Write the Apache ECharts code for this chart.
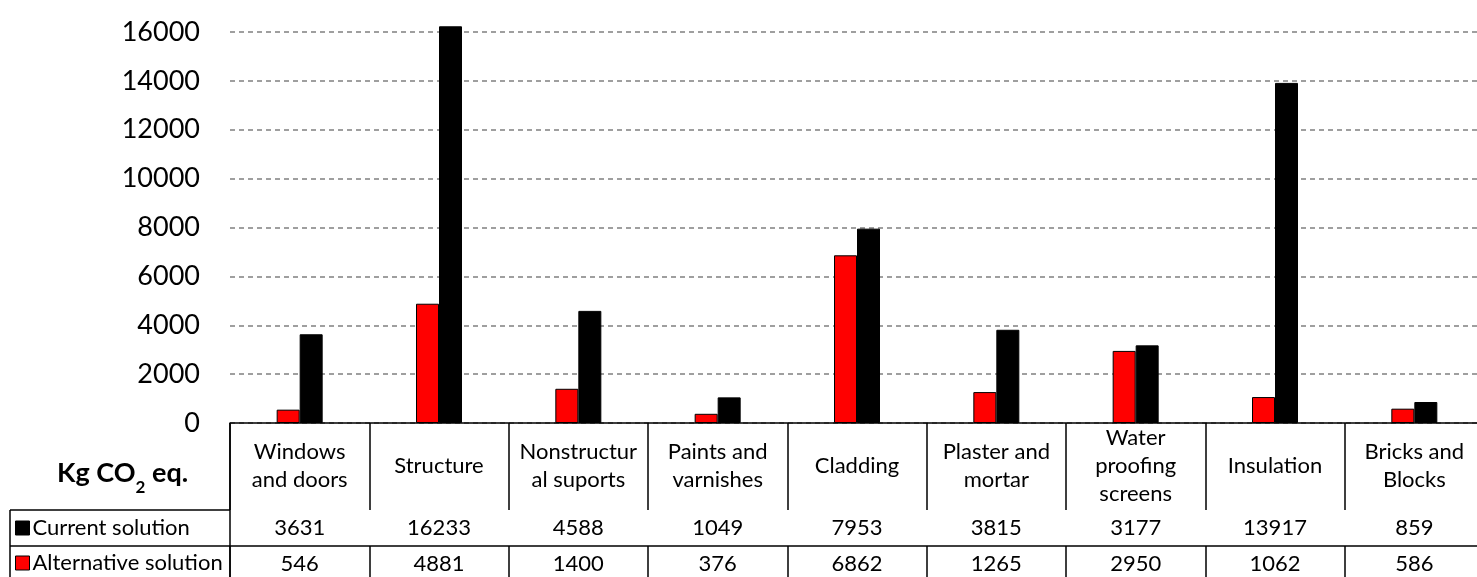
<!DOCTYPE html>
<html>
<head>
<meta charset="utf-8">
<script src="https://cdn.jsdelivr.net/npm/echarts@6/dist/echarts.min.js"></script>
<style>
  html, body { margin: 0; padding: 0; background: #fff; }
  #chart { width: 1477px; height: 577px; }
</style>
</head>
<body>
<div id="chart"></div>
<script>
var categories = [
  'Windows\nand doors', 'Structure', 'Nonstructur\nal suports', 'Paints and\nvarnishes',
  'Cladding', 'Plaster and\nmortar', 'Water\nproofing\nscreens', 'Insulation', 'Bricks and\nBlocks'
]
var currentSolution = [3631, 16233, 4588, 1049, 7953, 3815, 3177, 13917, 859]
var alternativeSolution = [546, 4881, 1400, 376, 6862, 1265, 2950, 1062, 586]

var font = 'Lato'
var lineColor = '#000'

var chart = echarts.init(document.getElementById('chart'))

// table row axis: values as labels, ticks as cell borders
function rowAxis (gridIndex, values) {
  return {
    type: 'category',
    gridIndex: gridIndex,
    position: 'top',
    data: values.map(String),
    axisLine: { show: true, lineStyle: { color: lineColor, width: 1.5 } },
    axisTick: { show: true, interval: 0, inside: true, length: 36, lineStyle: { color: lineColor, width: 1.5 } },
    axisLabel: {
      interval: 0, inside: true, margin: 18, verticalAlign: 'middle',
      fontFamily: font, fontSize: 22, color: '#000'
    },
    splitLine: { show: false }
  }
}

function rowLegend (name, top) {
  return {
    data: [{ name: name, icon: 'rect' }],
    left: 15,
    top: top,
    padding: 0,
    itemWidth: 14,
    itemHeight: 14,
    itemGap: 0,
    itemStyle: { borderColor: '#000', borderWidth: 1 },
    textStyle: { fontFamily: font, fontSize: 22, color: '#000', padding: [0, 0, 0, -2] }
  }
}

var option = {
  animation: false,
  grid: [
    { left: 230, right: -7, top: 32, bottom: 154, outerBoundsMode: 'none' },
    { left: 230, right: -7, top: 510, height: 36, outerBoundsMode: 'none' },
    { left: 230, right: -7, top: 546, height: 36, outerBoundsMode: 'none' }
  ],
  legend: [
    rowLegend('Current solution', 517),
    rowLegend('Alternative solution', 552)
  ],
  xAxis: [
    {
      type: 'category',
      gridIndex: 0,
      data: categories,
      axisLine: { show: true, lineStyle: { color: lineColor, width: 1.5 } },
      axisTick: { show: true, interval: 0, length: 87, lineStyle: { color: lineColor, width: 1.5 } },
      axisLabel: {
        interval: 0, margin: 43, verticalAlign: 'middle',
        fontFamily: font, fontSize: 22, lineHeight: 28, color: '#000'
      }
    },
    rowAxis(1, currentSolution),
    rowAxis(2, alternativeSolution)
  ],
  yAxis: [
    {
      type: 'value',
      gridIndex: 0,
      min: 0,
      max: 16000,
      interval: 2000,
      axisLine: { show: false },
      axisTick: { show: false },
      axisLabel: {
        margin: 30, fontFamily: font, fontSize: 27, color: '#000',
        formatter: function (v) { return String(v) }
      },
      splitLine: { lineStyle: { color: '#808080', width: 1.5, type: [5, 4] } }
    },
    { type: 'value', gridIndex: 1, show: false },
    { type: 'value', gridIndex: 2, show: false }
  ],
  series: [
    {
      name: 'Alternative solution',
      type: 'bar',
      xAxisIndex: 0,
      yAxisIndex: 0,
      barWidth: 23,
      barGap: '0%',
      clip: false,
      itemStyle: { color: '#ff0000', borderColor: '#000', borderWidth: 1 },
      data: alternativeSolution
    },
    {
      name: 'Current solution',
      type: 'bar',
      xAxisIndex: 0,
      yAxisIndex: 0,
      barWidth: 23,
      barGap: '0%',
      clip: false,
      itemStyle: { color: '#000', borderColor: '#000', borderWidth: 1 },
      data: currentSolution
    }
  ],
  graphic: [
    // left column borders of the data table
    { type: 'line', shape: { x1: 10, y1: 510, x2: 230, y2: 510 }, style: { stroke: lineColor, lineWidth: 1.5 } },
    { type: 'line', shape: { x1: 10, y1: 546, x2: 230, y2: 546 }, style: { stroke: lineColor, lineWidth: 1.5 } },
    { type: 'line', shape: { x1: 10, y1: 510, x2: 10, y2: 577 }, style: { stroke: lineColor, lineWidth: 1.5 } },
    { type: 'line', shape: { x1: 230, y1: 423, x2: 230, y2: 577 }, style: { stroke: lineColor, lineWidth: 1.5 } },
    {
      type: 'text',
      left: 57,
      top: 460,
      style: {
        text: '{b|Kg CO}{s|2}{b| eq.}',
        rich: {
          b: { fontFamily: font, fontSize: 27, fontWeight: 'bold', fill: '#000', verticalAlign: 'bottom' },
          s: { fontFamily: font, fontSize: 17, fontWeight: 'bold', fill: '#000', padding: [0, 0, -9, 0], verticalAlign: 'bottom' }
        }
      }
    }
  ]
}

chart.setOption(option)
</script>
</body>
</html>
